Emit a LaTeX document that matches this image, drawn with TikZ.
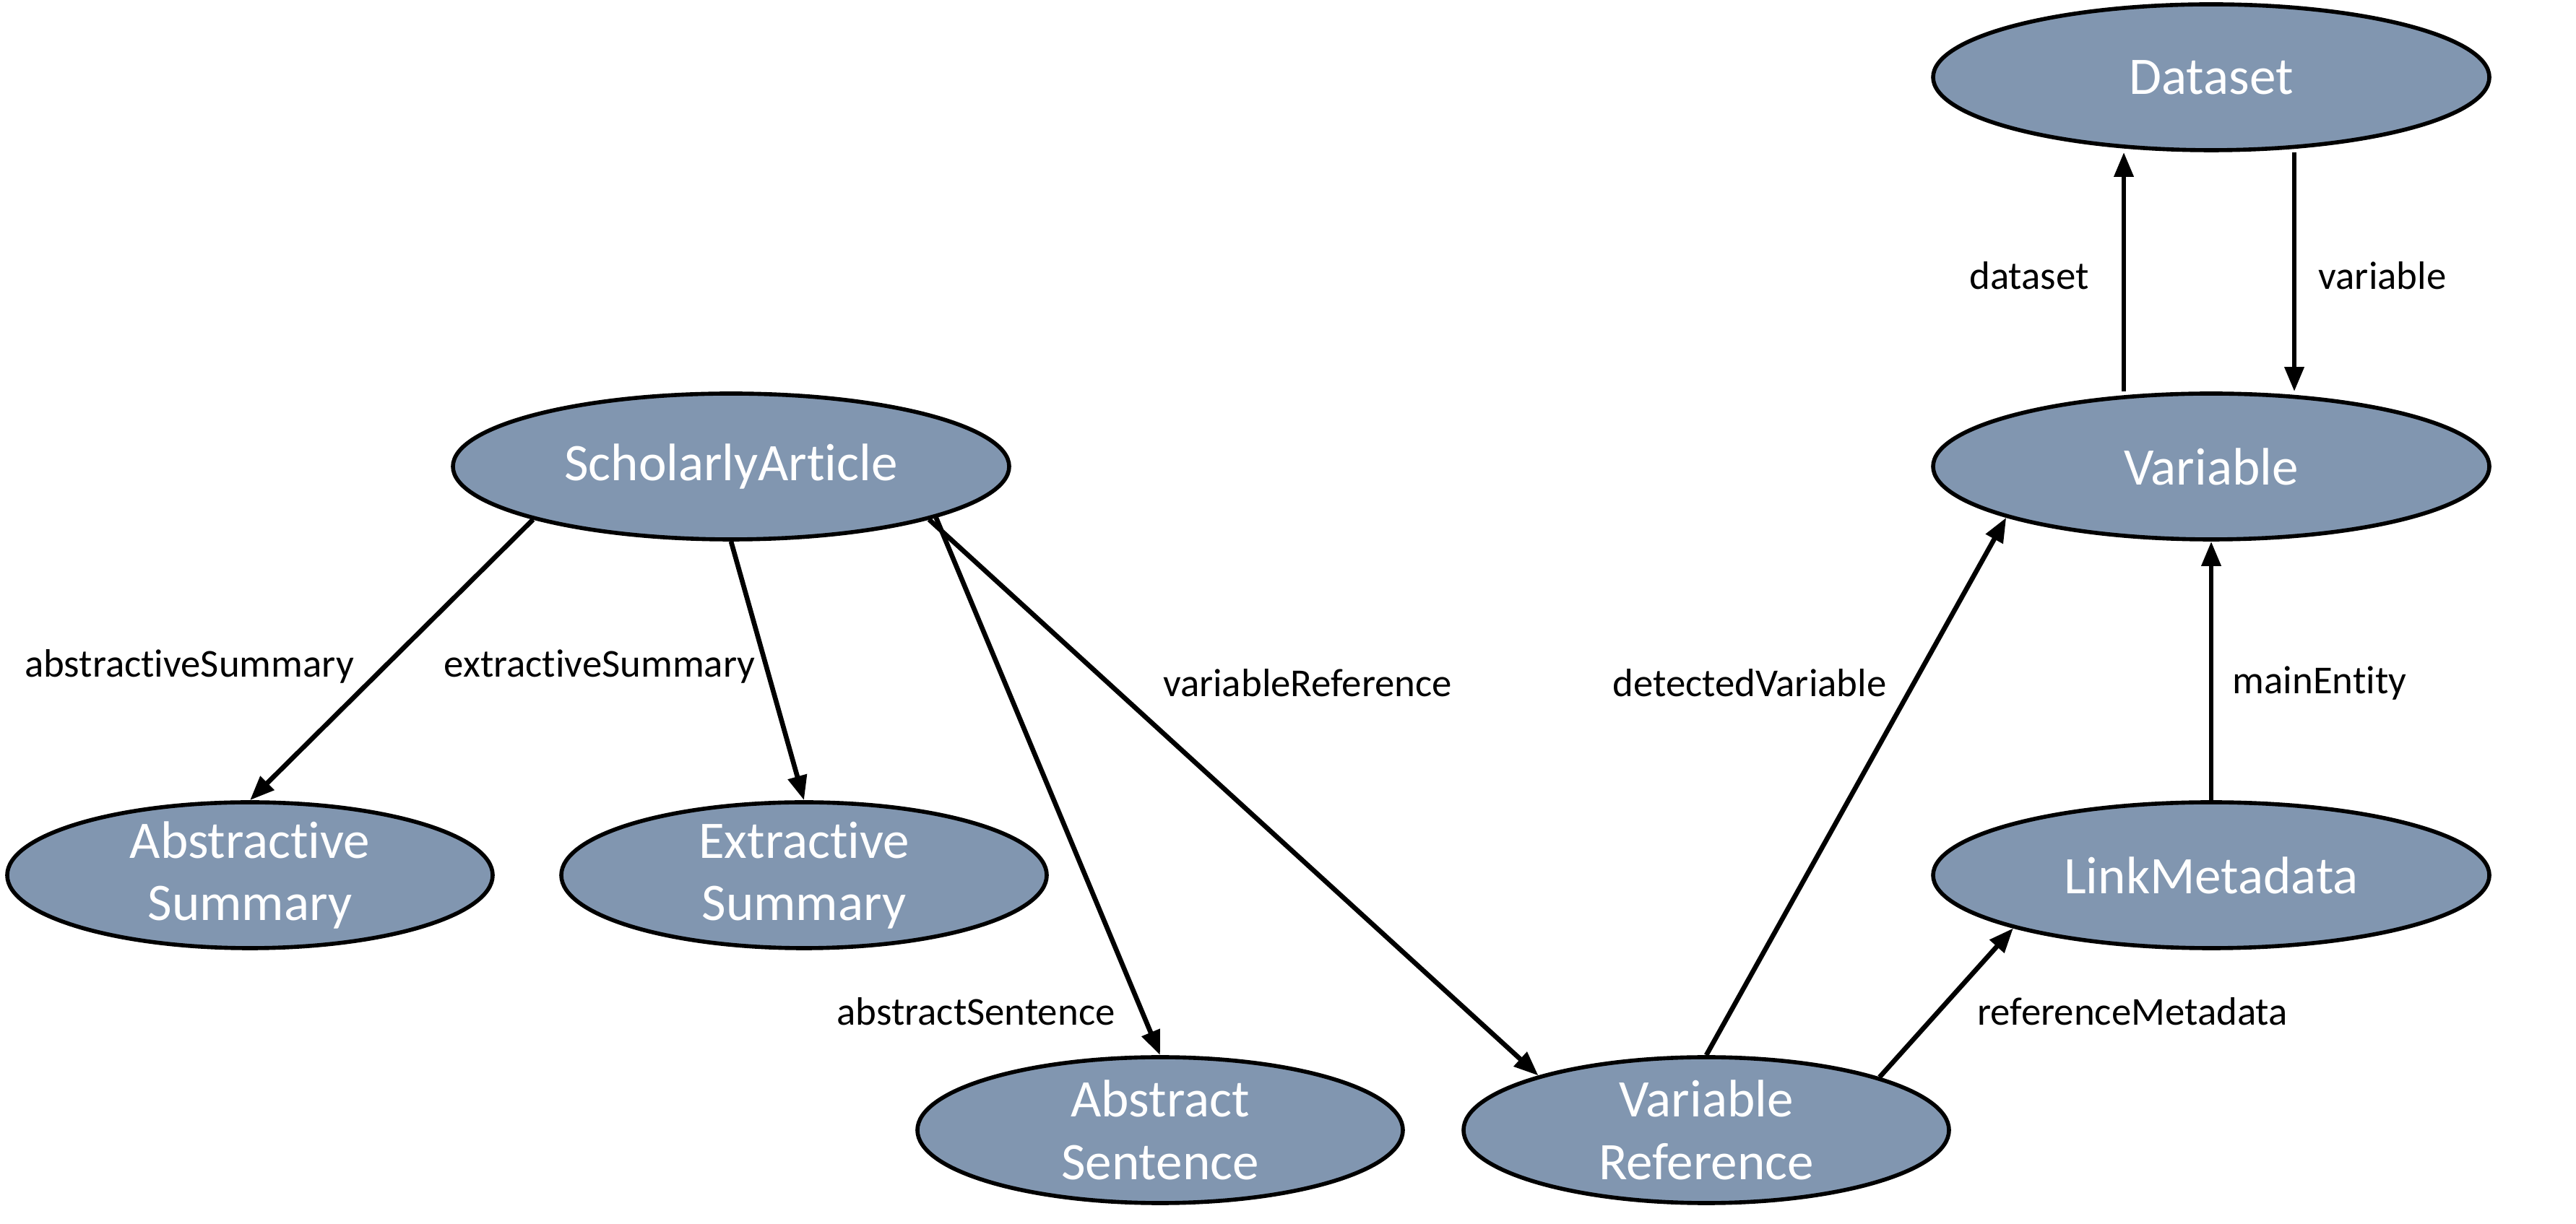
\documentclass[tikz,border=0pt]{standalone}
\usepackage{fontspec}
\setmainfont{Carlito}[Ligatures={NoCommon,NoContextual}]
\usetikzlibrary{shapes.geometric,arrows.meta}
\definecolor{nodefill}{RGB}{129,150,176}
\tikzset{
  ent/.style={ellipse, draw=black, line width=1.6pt, fill=nodefill, text=white,
    minimum width=7.70cm, minimum height=2.02cm, inner xsep=0pt, inner ysep=-4pt,
    align=center, font=\fontsize{20.8pt}{24.6pt}\selectfont},
  entsmall/.style={ent, minimum width=6.72cm},
  lbl/.style={font=\fontsize{15.6pt}{18pt}\selectfont, text=black, inner sep=0pt},
  arr/.style={line width=1.9pt, -{Triangle[length=0.34cm,width=0.26cm]}}
}
\begin{document}
\begin{tikzpicture}
\useasboundingbox (0,0) rectangle (35.66,16.95);
% nodes
\node[ent] (DS) at (30.61,15.88) {Dataset};
\node[ent] (VAR) at (30.61,10.49) {Variable};
\node[ent] (LM) at (30.61,4.83) {LinkMetadata};
\node[ent] (SA) at (10.12,10.49) {ScholarlyArticle};
\node[entsmall] (ABS) at (3.46,4.83) {Abstractive\\Summary};
\node[entsmall] (EXT) at (11.13,4.83) {Extractive\\Summary};
\node[entsmall] (AS) at (16.06,1.30) {Abstract\\Sentence};
\node[entsmall] (VR) at (23.62,1.30) {Variable\\Reference};
% connectors
\draw[arr] (SA.-165.3) -- (ABS.north);
\draw[arr] (SA.south) -- (EXT.north);
\draw[arr] (SA.-14.6) -- (AS.north);
\draw[arr] (SA.-15.2) -- (VR.162);
\draw[arr] (VR.north) -- (VAR.194.7);
\draw[arr] (VR.17.4) -- (LM.195);
\draw[arr] (LM.north) -- (VAR.south);
\draw[arr] ([xshift=-1.21cm]VAR.north) -- ([xshift=-1.21cm]DS.south);
\draw[arr] ([xshift=1.15cm]DS.south) -- ([xshift=1.15cm]VAR.north);
% labels
\node[lbl] (l1) at (2.62,7.72) {abstractiveSummary};
\node[lbl] (l2) at (8.30,7.72) {extractiveSummary};
\node[lbl] (l3) at (13.51,2.94) {abstractSentence};
\node[lbl] (l4) at (18.10,7.49) {variableReference};
\node[lbl] (l5) at (24.22,7.49) {detectedVariable};
\node[lbl] (l6) at (29.52,2.94) {referenceMetadata};
\node[lbl] (l7) at (32.11,7.49) {mainEntity};
\node[lbl] (l8) at (28.09,13.13) {dataset};
\node[lbl] (l9) at (32.98,13.13) {variable};
\end{tikzpicture}
\end{document}
